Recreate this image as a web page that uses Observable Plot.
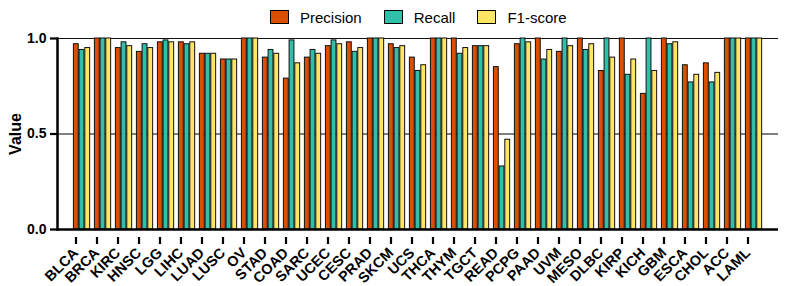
<!DOCTYPE html>
<html><head><meta charset="utf-8">
<script src="https://cdn.jsdelivr.net/npm/d3@7"></script>
<script src="https://cdn.jsdelivr.net/npm/@observablehq/plot@0.6"></script>
<style>
body{margin:0;background:#fff;font-family:"Liberation Sans",Arial,sans-serif;}
#legend{height:30px;display:flex;align-items:center;padding-left:270px;padding-top:4px;box-sizing:border-box;font-size:15px;color:#000;}
.item{display:flex;align-items:center;margin-right:22px;}
.sw{width:19px;height:14px;border:1.3px solid #000;box-sizing:border-box;margin-right:11px;}
</style></head>
<body>
<div id="legend"></div>
<div id="chart"></div>
<script>
const categories = ["BLCA","BRCA","KIRC","HNSC","LGG","LIHC","LUAD","LUSC","OV","STAD","COAD","SARC","UCEC","CESC","PRAD","SKCM","UCS","THCA","THYM","TGCT","READ","PCPG","PAAD","UVM","MESO","DLBC","KIRP","KICH","GBM","ESCA","CHOL","ACC","LAML"];
const precision = [0.97,1.0,0.95,0.93,0.98,0.98,0.92,0.89,1.0,0.90,0.79,0.90,0.96,0.98,1.0,0.97,0.90,1.0,1.0,0.96,0.85,0.97,1.0,0.93,1.0,0.83,1.0,0.71,1.0,0.86,0.87,1.0,1.0];
const recall    = [0.94,1.0,0.98,0.97,0.99,0.97,0.92,0.89,1.0,0.94,0.99,0.94,0.99,0.93,1.0,0.95,0.83,1.0,0.92,0.96,0.33,1.0,0.89,1.0,0.94,1.0,0.81,1.0,0.97,0.77,0.77,1.0,1.0];
const f1score   = [0.95,1.0,0.96,0.95,0.98,0.98,0.92,0.89,1.0,0.92,0.87,0.92,0.97,0.95,1.0,0.96,0.86,1.0,0.95,0.96,0.47,0.98,0.94,0.96,0.97,0.90,0.89,0.83,0.98,0.81,0.82,1.0,1.0];
const yTicks = [0, 0.5, 1];
const metrics = ["Precision","Recall","F1-score"];
const colors = ["#db4f00","#30bfa9","#ffe566"];

const legend = document.getElementById("legend");
metrics.forEach((m,i)=>{
  const d = document.createElement("div"); d.className="item";
  d.innerHTML = `<div class="sw" style="background:${colors[i]}"></div><span>${m}</span>`;
  legend.appendChild(d);
});

const series = [precision, recall, f1score];
const W = 789, ML = 57, MR = 11;
const step = (W - ML - MR) / categories.length;
const barW = 5.7, start = 2.4;

const marks = [
  Plot.ruleY([0.5], {stroke:"#555", strokeWidth:1.5}),
  Plot.ruleY([1], {stroke:"#111", strokeWidth:1.2})
];
series.forEach((vals,i)=>{
  const data = categories.map((c,j)=>({cat:c, v:vals[j]}));
  const l = start + i*barW;
  marks.push(Plot.barY(data, {x:"cat", y:"v", fill:colors[i], stroke:"#111", strokeWidth:1,
    insetLeft:l, insetRight: step - l - barW}));
});
marks.push(
  Plot.axisX({tickRotate:-45, tickSize:7, tickPadding:6, strokeWidth:2.2, fontWeight:"bold", fontSize:14.5, textAnchor:"end", dx:-6, dy:8}),
  Plot.axisY({ticks:yTicks, tickFormat:d3.format(".1f"), tickSize:7, tickPadding:4, strokeWidth:2.2, fontWeight:"bold", fontSize:14}),
  Plot.frame({anchor:"left", strokeWidth:2.5}),
  Plot.ruleY([0], {stroke:"#000", strokeWidth:2.5})
);

const plot = Plot.plot({
  width: W, height: 256,
  marginLeft: ML, marginRight: MR, marginTop: 8, marginBottom: 57,
  style:{fontFamily:"'Liberation Sans', Arial, sans-serif", color:"#000", background:"#fff"},
  x:{domain:categories, padding:0, label:null},
  y:{domain:[0,1], label:null},
  marks
});
document.getElementById("chart").appendChild(plot);

// y-axis title
const svg = d3.select(plot);
svg.append("text").attr("transform","translate(21,104) rotate(-90)")
  .attr("text-anchor","middle").attr("font-weight","bold").attr("font-size",16)
  .attr("font-family","'Liberation Sans', Arial, sans-serif").text("Value");
</script>
</body></html>
